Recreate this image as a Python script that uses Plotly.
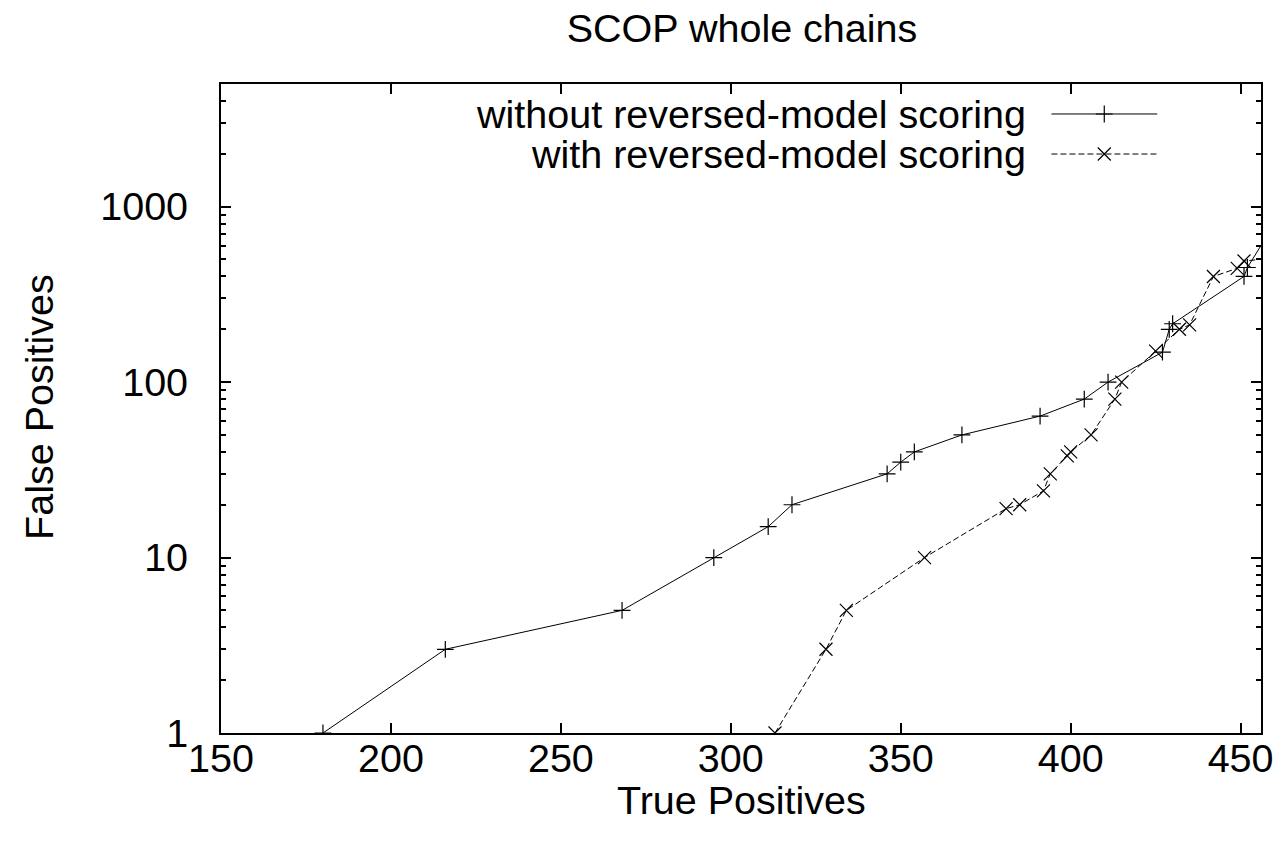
import plotly.graph_objects as go

# ---- data ----
without_tp = [180, 216, 268, 295, 311, 318, 346, 350, 354, 368, 391, 404, 411, 427, 429, 430, 451, 452, 460]
without_fp = [1, 3, 5, 10, 15, 20, 30, 35, 40, 50, 64, 80, 100, 148, 200, 215, 400, 450, 800]

with_tp = [313, 328, 334, 357, 381, 385, 392, 394, 399, 400, 406, 413, 415, 425, 432, 435, 442, 449, 451, 458]
with_fp = [1, 3, 5, 10, 19, 20, 24, 30, 38, 40, 50, 80, 100, 150, 200, 212, 400, 445, 490, 505]

series_names = ["without reversed-model scoring", "with reversed-model scoring"]
x_ticks = [150, 200, 250, 300, 350, 400, 450]
y_ticks = [1, 10, 100, 1000]
y_minor = [m * d for d in [1, 10, 100, 1000] for m in range(2, 10) if m * d <= 5000]

FONT = "Liberation Sans, Arial, Helvetica, sans-serif"
FS = 39.5

fig = go.Figure()
fig.add_trace(go.Scatter(
    x=without_tp, y=without_fp, mode="lines+markers", name=series_names[0],
    line=dict(color="black", width=1),
    marker=dict(symbol="cross-thin", size=12, line=dict(color="black", width=1.2)),
    showlegend=False))
fig.add_trace(go.Scatter(
    x=with_tp, y=with_fp, mode="lines+markers", name=series_names[1],
    line=dict(color="black", width=1, dash="6px,3px"),
    marker=dict(symbol="x-thin", size=13, line=dict(color="black", width=1.2)),
    showlegend=False))

# legend keys (custom, gnuplot style: text left of sample)
leg_y = [0.9538, 0.8921]
leg_x0, leg_x1, leg_xm, leg_tx = 0.7985, 0.9002, 0.8493, 0.7764
fig.add_trace(go.Scatter(
    x=[leg_xm], y=[leg_y[0]], xaxis="x2", yaxis="y2", mode="markers",
    marker=dict(symbol="cross-thin", size=12, line=dict(color="black", width=1.2)),
    showlegend=False, hoverinfo="skip"))
fig.add_trace(go.Scatter(
    x=[leg_xm], y=[leg_y[1]], xaxis="x2", yaxis="y2", mode="markers",
    marker=dict(symbol="x-thin", size=13, line=dict(color="black", width=1.2)),
    showlegend=False, hoverinfo="skip"))

shapes = [
    dict(type="line", xref="paper", yref="paper", x0=leg_x0, x1=leg_x1, y0=leg_y[0], y1=leg_y[0],
         line=dict(color="black", width=1)),
    dict(type="line", xref="paper", yref="paper", x0=leg_x0, x1=leg_x1, y0=leg_y[1], y1=leg_y[1],
         line=dict(color="black", width=1, dash="6px,3px")),
]
annotations = [
    dict(text=series_names[0], xref="paper", yref="paper", x=leg_tx, y=leg_y[0],
         xanchor="right", yanchor="middle", showarrow=False, font=dict(size=FS, color="black", family=FONT)),
    dict(text=series_names[1], xref="paper", yref="paper", x=leg_tx, y=leg_y[1],
         xanchor="right", yanchor="middle", showarrow=False, font=dict(size=FS, color="black", family=FONT)),
    dict(text="True Positives", xref="paper", yref="paper", x=0.5, y=-0.103,
         xanchor="center", yanchor="middle", showarrow=False, font=dict(size=FS, color="black", family=FONT)),
    dict(text="False Positives", xref="paper", yref="paper", x=-0.1756, y=0.503, textangle=-90,
         xanchor="center", yanchor="middle", showarrow=False, font=dict(size=FS, color="black", family=FONT)),
]

fig.update_layout(
    width=1286, height=851,
    margin=dict(l=221, r=23, t=84, b=118),
    paper_bgcolor="white", plot_bgcolor="white",
    font=dict(family=FONT, size=FS, color="black"),
    title=dict(text="SCOP whole chains", x=(221 + 1263) / 2 / 1286, xanchor="center",
               y=1 - 28 / 851, yanchor="middle", font=dict(size=FS, color="black", family=FONT)),
    shapes=shapes, annotations=annotations,
    xaxis=dict(range=[150, 456], tickvals=x_ticks, ticks="inside", ticklen=10, tickwidth=1.5,
               tickcolor="black", showline=True, linecolor="black", linewidth=2, mirror="ticks",
               showgrid=False, zeroline=False, ticklabelstandoff=-10),
    yaxis=dict(type="log", range=[0, 3.699], tickvals=y_ticks, ticktext=[str(v) for v in y_ticks],
               ticks="inside", ticklen=10, tickwidth=1.5, tickcolor="black",
               showline=True, linecolor="black", linewidth=2, mirror="ticks",
               showgrid=False, zeroline=False, ticklabelstandoff=23,
               minor=dict(tickvals=y_minor, ticks="inside", ticklen=5, tickwidth=1.5,
                          tickcolor="black", showgrid=False)),
    xaxis2=dict(overlaying="x", range=[0, 1], visible=False, fixedrange=True),
    yaxis2=dict(overlaying="y", range=[0, 1], visible=False, fixedrange=True),
)

fig.write_html("out.html")
